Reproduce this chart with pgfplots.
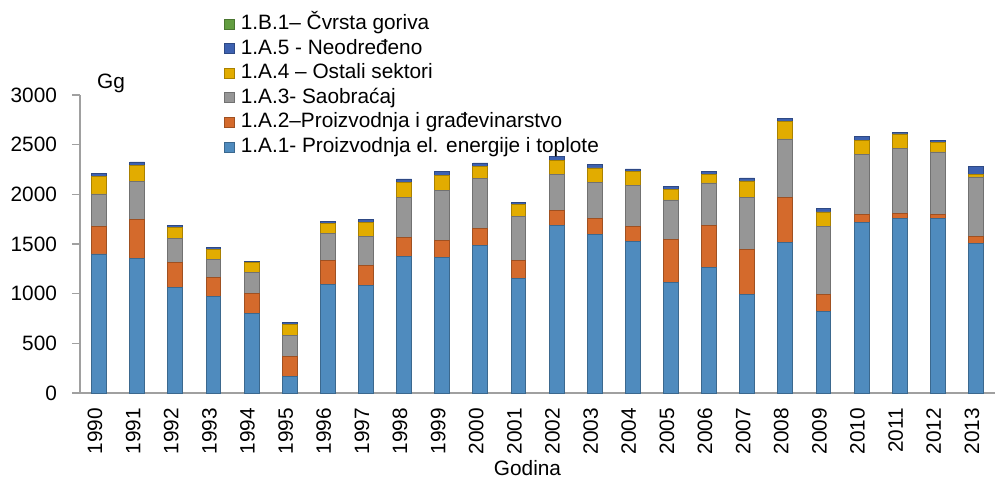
\documentclass[border=0pt]{standalone}
\usepackage{pgfplots}
\usepackage{pgfplotstable}
\pgfplotsset{compat=1.18}
\usetikzlibrary{calc}
\usepackage{fontspec}
\setmainfont{Liberation Sans}
\definecolor{cA1}{RGB}{79,139,190}
\definecolor{cA2}{RGB}{212,106,44}
\definecolor{cA3}{RGB}{150,150,150}
\definecolor{cA4}{RGB}{226,172,0}
\definecolor{cA5}{RGB}{61,97,176}
\definecolor{cB1}{RGB}{98,157,64}
\definecolor{axgray}{RGB}{160,160,160}
\newcommand{\lf}{\fontsize{10.4}{12}\selectfont}
\pgfplotstableread{
x a1 a2 a3 a4 a5 b1
0 1400 273 331 175 27 0
1 1358 392 382 161 33 0
2 1066 251 242 107 20 0
3 969 191 187 98 16 0
4 804 202 211 94 13 0
5 164 201 218 104 20 0
6 1089 242 275 104 16 0
7 1086 201 292 141 23 0
8 1378 184 409 151 33 0
9 1361 178 502 151 34 0
10 1485 174 500 120 37 0
11 1153 181 439 121 27 0
12 1683 157 356 144 37 0
13 1596 157 369 144 34 0
14 1525 148 419 140 24 0
15 1116 433 395 101 33 0
16 1264 425 426 81 30 0
17 996 452 520 167 30 0
18 1518 450 590 177 27 0
19 821 168 690 144 34 0
20 1720 80 603 141 37 0
21 1760 50 650 148 13 0
22 1760 40 627 97 17 0
23 1505 70 600 24 80 0
}\data
\begin{document}
\begin{tikzpicture}
\begin{axis}[
  name=ax,
  scale only axis,
  width=457.5pt, height=149pt,
  ybar stacked,
  bar width=0.39,
  xmin=-0.5, xmax=23.5,
  ymin=0, ymax=3000,
  ytick={0,500,...,3000},
  xtick=data,
  xticklabels={1990,1991,1992,1993,1994,1995,1996,1997,1998,1999,2000,2001,2002,2003,2004,2005,2006,2007,2008,2009,2010,2011,2012,2013},
  x tick label style={rotate=90, anchor=east, font=\lf, yshift=2pt},
  y tick label style={font=\lf, xshift=-4pt},
  /pgf/number format/assume math mode=true,
  yticklabel style={/pgf/number format/1000 sep={}},
  scaled y ticks=false,
  axis x line*=bottom,
  axis y line*=left,
  axis line style={axgray, line width=0.6pt},
  major tick length=4pt,
  tick align=outside,
  tick style={axgray, line width=0.6pt},
  x tick style={draw=none},
  extra x ticks={-0.5,0.5,...,23.5},
  extra x tick labels={},
  extra x tick style={tick style={axgray, line width=0.6pt, draw=axgray}, major tick length=3.5pt},
  xlabel={Godina},
  xlabel style={font=\lf, at={(axis description cs:0.5,0)}, anchor=base, yshift=-41pt, xshift=-5pt},
  reverse legend,
  legend cell align=left,
  legend style={draw=none, fill=none, inner sep=0pt, at={(0.157,1.275)}, anchor=north west,
    font=\lf, row sep=1.8pt,
    nodes={inner sep=0pt, text height=8pt, text depth=2.5pt},
    /tikz/every odd column/.append style={column sep=3pt}},
  legend image code/.code={\draw[#1, draw opacity=1] (0pt,-2.5pt) rectangle (5pt,2.5pt);},
  clip=false,
]
\addplot[fill=cA1, draw=cA1!75!black, line width=0.4pt] table[x=x, y=a1] {\data};
\addlegendentry{1.A.1- Proizvodnja el. energije i toplote}
\addplot[fill=cA2, draw=cA2!75!black, line width=0.4pt] table[x=x, y=a2] {\data};
\addlegendentry{1.A.2–Proizvodnja i građevinarstvo}
\addplot[fill=cA3, draw=cA3!75!black, line width=0.4pt] table[x=x, y=a3] {\data};
\addlegendentry{1.A.3- Saobraćaj}
\addplot[fill=cA4, draw=cA4!75!black, line width=0.4pt] table[x=x, y=a4] {\data};
\addlegendentry{1.A.4 – Ostali sektori}
\addplot[fill=cA5, draw=cA5!75!black, line width=0.4pt] table[x=x, y=a5] {\data};
\addlegendentry{1.A.5 - Neodređeno}
\addplot[fill=cB1, draw=cB1!75!black, line width=0.4pt] table[x=x, y=b1] {\data};
\addlegendentry{1.B.1– Čvrsta goriva}
\node[font=\lf] at (rel axis cs:0.034,1.04) {Gg};
\end{axis}
\pgfresetboundingbox
\path[use as bounding box] ($(ax.south west)+(-40pt,-42pt)$) rectangle ($(ax.north east)+(0pt,47.5pt)$);
\end{tikzpicture}
\end{document}
